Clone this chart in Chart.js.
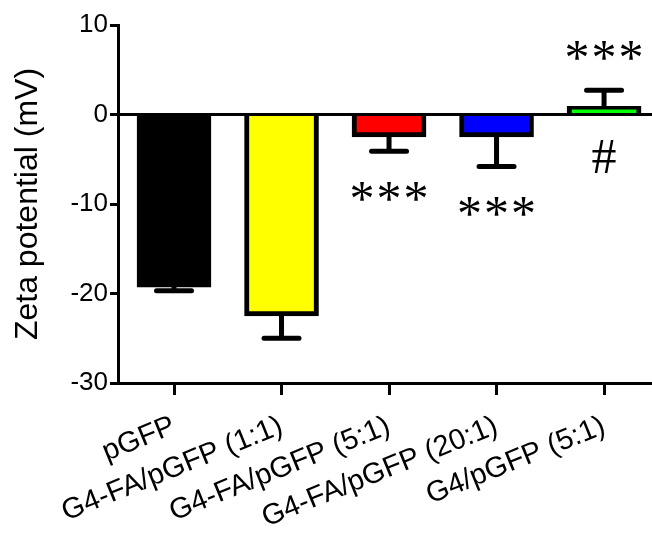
<!DOCTYPE html>
<html lang="en">
<head>
<meta charset="UTF-8">
<title>Zeta potential</title>
<script src="https://cdn.jsdelivr.net/npm/chart.js"></script>
<style>
  html, body { margin: 0; padding: 0; background: #fff; }
  canvas { display: block; }
</style>
</head>
<body>
<canvas id="zetaChart" width="652" height="533"></canvas>
<script>
const categories = ['pGFP', 'G4-FA/pGFP (1:1)', 'G4-FA/pGFP (5:1)', 'G4-FA/pGFP (20:1)', 'G4/pGFP (5:1)'];
const zeta = [-19.3, -22.5, -2.5, -2.5, 0.9];
const sem = [0.4, 2.5, 1.6, 3.3, 1.8];
const stars = ['', '', '***', '***', '***'];
const hashes = ['', '', '', '', '#'];
const barColors = ['#000000', '#ffff00', '#ff0000', '#0000ff', '#00ff00'];
const yTicks = [-30, -20, -10, 0, 10];

// centre a glyph on its ink, not on its em box
function drawCentered(ctx, text, cx, cy) {
    const m = ctx.measureText(text);
    const x = cx - (m.actualBoundingBoxRight - m.actualBoundingBoxLeft) / 2;
    const y = cy + (m.actualBoundingBoxAscent - m.actualBoundingBoxDescent) / 2;
    ctx.fillText(text, x, y);
}

const extras = {
    id: 'extras',
    afterDatasetsDraw(chart) {
        const ctx = chart.ctx;
        const ys = chart.scales.y;
        const area = chart.chartArea;
        const bars = chart.getDatasetMeta(0).data;
        const y0 = ys.getPixelForValue(0);
        ctx.save();
        ctx.strokeStyle = '#000';
        ctx.fillStyle = '#000';
        ctx.lineWidth = 3;
        ctx.beginPath();
        ctx.moveTo(area.left, y0);
        ctx.lineTo(area.right, y0);
        ctx.stroke();

        ctx.lineWidth = 5;
        ctx.lineCap = 'round';
        ctx.textAlign = 'left';
        ctx.textBaseline = 'alphabetic';
        bars.forEach((bar, i) => {
            const dir = zeta[i] < 0 ? -1 : 1;
            const yEnd = ys.getPixelForValue(zeta[i] + dir * sem[i]);
            ctx.beginPath();
            ctx.moveTo(bar.x, bar.y);
            ctx.lineTo(bar.x, yEnd);
            ctx.moveTo(bar.x - 17.5, yEnd);
            ctx.lineTo(bar.x + 17.5, yEnd);
            ctx.stroke();

            if (stars[i]) {
                ctx.font = '50px "Liberation Serif"';
                const cy = yEnd - dir * 40;
                [...stars[i]].forEach((s, k) => {
                    drawCentered(ctx, s, bar.x + (k - 1) * 27, cy);
                });
            }
            if (hashes[i]) {
                ctx.font = '50px "Liberation Serif"';
                drawCentered(ctx, hashes[i], bar.x, y0 + dir * 42);
            }
        });
        ctx.restore();
    }
};

new Chart(document.getElementById('zetaChart'), {
    type: 'bar',
    data: {
        datasets: [{
            data: categories.map((c, i) => ({ x: i, y: zeta[i] })),
            backgroundColor: barColors,
            borderColor: '#000',
            borderWidth: 5,
            barThickness: 74
        }]
    },
    options: {
        responsive: false,
        animation: false,
        layout: { padding: { top: 25, left: 0, right: 0, bottom: 0 } },
        plugins: { legend: { display: false }, tooltip: { enabled: false } },
        scales: {
            x: {
                type: 'linear',
                offset: false,
                min: -0.521,
                max: 4.446,
                afterBuildTicks: s => { s.ticks = categories.map((c, i) => ({ value: i })); },
                afterFit: s => { s.height = 150; },
                grid: { offset: false, drawOnChartArea: false, color: '#000', lineWidth: 3, tickLength: 12 },
                border: { color: '#000', width: 3 },
                ticks: {
                    autoSkip: false,
                    minRotation: 22,
                    maxRotation: 22,
                    padding: 14,
                    color: '#000',
                    font: { family: 'Liberation Sans', size: 29 },
                    callback: v => categories[v]
                }
            },
            y: {
                min: -30,
                max: 10,
                afterBuildTicks: s => { s.ticks = yTicks.map(v => ({ value: v })); },
                afterFit: s => { s.width = 118; },
                grid: { drawOnChartArea: false, color: '#000', lineWidth: 3, tickLength: 8 },
                border: { color: '#000', width: 3 },
                ticks: {
                    padding: 2,
                    color: '#000',
                    font: { family: 'Liberation Sans', size: 26 }
                },
                title: {
                    display: true,
                    text: 'Zeta potential (mV)',
                    color: '#000',
                    font: { family: 'Liberation Sans', size: 32, weight: 'normal' },
                    padding: { top: 9, bottom: 0 }
                }
            }
        }
    },
    plugins: [extras]
});
</script>
</body>
</html>
